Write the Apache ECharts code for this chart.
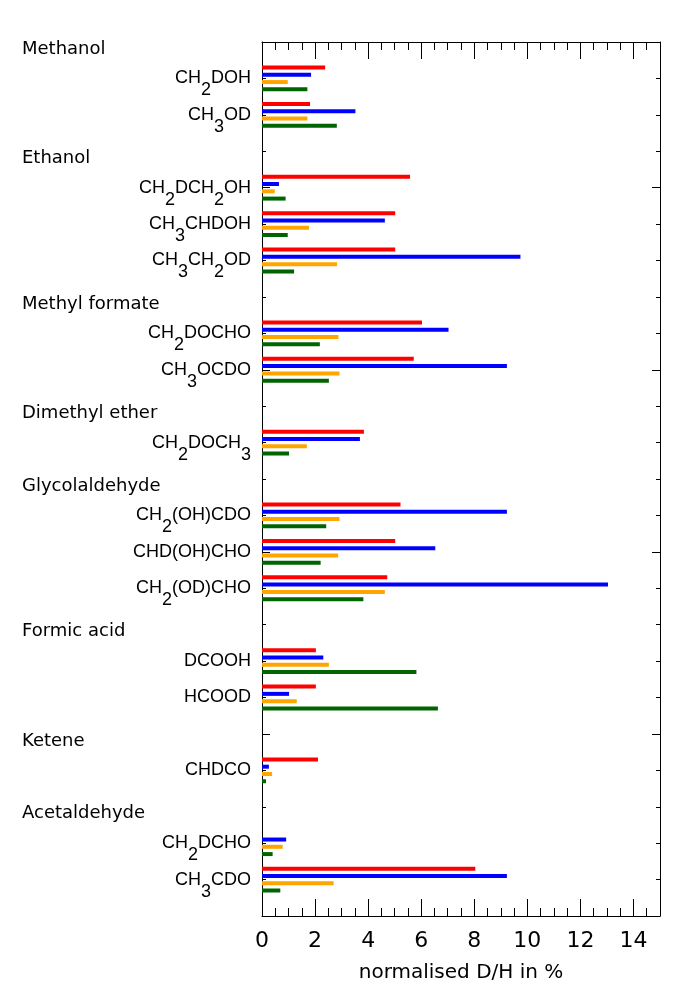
<!DOCTYPE html>
<html>
<head>
<meta charset="utf-8">
<script src="https://cdn.jsdelivr.net/npm/echarts@6/dist/echarts.min.js"></script>
<style>
  html, body { margin: 0; padding: 0; background: #fff; }
  #chart { width: 700px; height: 1000px; }
</style>
</head>
<body>
<div id="chart"></div>
<script>
// molecule groups, top to bottom, and the deuterated forms under each
const groups = ['Methanol', 'Ethanol', 'Methyl formate', 'Dimethyl ether',
  'Glycolaldehyde', 'Formic acid', 'Ketene', 'Acetaldehyde'];
const members = [
  ['CH2DOH', 'CH3OD'],
  ['CH2DCH2OH', 'CH3CHDOH', 'CH3CH2OD'],
  ['CH2DOCHO', 'CH3OCDO'],
  ['CH2DOCH3'],
  ['CH2(OH)CDO', 'CHD(OH)CHO', 'CH2(OD)CHO'],
  ['DCOOH', 'HCOOD'],
  ['CHDCO'],
  ['CH2DCHO', 'CH3CDO']
];

// normalised D/H in %, one value per compound in the order above
const redVals    = [2.38, 1.81, 5.58, 5.02, 5.02, 6.03, 5.72, 3.84, 5.22, 5.02, 4.72, 2.03, 2.03, 2.11, null, 8.04];
const blueVals   = [1.85, 3.52, 0.64, 4.63, 9.74, 7.03, 9.23, 3.69, 9.23, 6.53, 13.04, 2.31, 1.02, 0.26, 0.91, 9.23];
const orangeVals = [0.97, 1.71, 0.48, 1.77, 2.83, 2.88, 2.92, 1.69, 2.92, 2.87, 4.63, 2.52, 1.31, 0.38, 0.78, 2.70];
const greenVals  = [1.71, 2.82, 0.89, 0.97, 1.21, 2.18, 2.52, 1.02, 2.42, 2.21, 3.82, 5.82, 6.63, 0.15, 0.40, 0.69];

const xMax = 15;
const xStep = 2;

// each header and each compound takes one row; row 0 is the bottom edge
const nRows = 25;
const rowIds = [];
const compoundAt = new Array(nRows).fill('');
const headerAt = new Array(nRows).fill('');
const compoundRows = [];
for (let i = 0; i < nRows; i++) rowIds.push(String(i));
let row = nRows - 1;
groups.forEach(function (g, gi) {
  headerAt[row--] = g;
  members[gi].forEach(function (m) {
    compoundAt[row] = m;
    compoundRows.push(row);
    row--;
  });
});

function toRows(vals) {
  const out = new Array(nRows).fill(null);
  vals.forEach(function (v, i) { out[compoundRows[i]] = v; });
  return out;
}

// digits in the formulas are drawn as subscripts
function chem(name) {
  if (!name) return '';
  return name.split(/(\d+)/).filter(Boolean).map(function (p) {
    return /^\d+$/.test(p) ? '{s|' + p + '}' : '{n|' + p + '}';
  }).join('');
}

const black = '#000';

const chart = echarts.init(document.getElementById('chart'));

const option = {
  animation: false,
  backgroundColor: '#fff',
  grid: { left: 262, right: 40, top: 42, bottom: 84, containLabel: false },
  xAxis: [
    {
      type: 'value', position: 'bottom', min: 0, max: xMax, interval: xStep,
      axisLine: { show: true, onZero: false, lineStyle: { color: black, width: 1 } },
      axisTick: { show: true, inside: true, length: 17, lineStyle: { color: black } },
      minorTick: { show: true, splitNumber: 4, length: 8, lineStyle: { color: black } },
      splitLine: { show: false },
      axisLabel: { color: black, fontFamily: 'DejaVu Sans', fontSize: 22, margin: 14 },
      name: 'normalised D/H in %',
      nameLocation: 'middle',
      nameGap: 47,
      nameTextStyle: { color: black, fontFamily: 'DejaVu Sans', fontSize: 20 }
    },
    {
      type: 'value', position: 'top', min: 0, max: xMax, interval: xStep,
      axisLine: { show: true, onZero: false, lineStyle: { color: black, width: 1 } },
      axisTick: { show: true, inside: true, length: 17, lineStyle: { color: black } },
      minorTick: { show: true, splitNumber: 4, length: 8, lineStyle: { color: black } },
      splitLine: { show: false },
      axisLabel: { show: false }
    }
  ],
  yAxis: [
    {
      // compound labels + small ticks, used by the bars
      type: 'category', position: 'left', data: rowIds, boundaryGap: false,
      axisLine: { show: true, onZero: false, lineStyle: { color: black, width: 1 } },
      axisTick: { show: true, inside: true, length: 4, interval: 0, lineStyle: { color: black } },
      splitLine: { show: false },
      axisLabel: {
        interval: 0, margin: 11, color: black,
        formatter: function (v, i) { return chem(compoundAt[i]); },
        rich: {
          n: { fontFamily: 'Liberation Sans', fontSize: 18, lineHeight: 42, color: black },
          s: { fontFamily: 'Liberation Sans', fontSize: 18, lineHeight: 18, verticalAlign: 'bottom', color: black }
        }
      }
    },
    {
      // group headers, left aligned
      type: 'category', position: 'left', data: rowIds, boundaryGap: false,
      axisLine: { show: false, onZero: false },
      axisTick: { show: false },
      splitLine: { show: false },
      axisLabel: {
        interval: 0, margin: 240, align: 'left', color: black,
        formatter: function (v, i) { return headerAt[i] ? '{h|' + headerAt[i] + '}' : ''; },
        rich: {
          h: { fontFamily: 'DejaVu Sans', fontSize: 18, lineHeight: 32, verticalAlign: 'bottom', color: black }
        }
      }
    },
    {
      type: 'value', position: 'left', min: 0, max: nRows - 1, interval: 5,
      axisLine: { show: false, onZero: false },
      axisTick: { show: true, inside: true, length: 8, lineStyle: { color: black } },
      splitLine: { show: false },
      axisLabel: { show: false }
    },
    {
      type: 'category', position: 'right', data: rowIds, boundaryGap: false,
      axisLine: { show: true, onZero: false, lineStyle: { color: black, width: 1 } },
      axisTick: { show: true, inside: true, length: 4, interval: 0, lineStyle: { color: black } },
      splitLine: { show: false },
      axisLabel: { show: false }
    },
    {
      type: 'value', position: 'right', min: 0, max: nRows - 1, interval: 5,
      axisLine: { show: false, onZero: false },
      axisTick: { show: true, inside: true, length: 8, lineStyle: { color: black } },
      splitLine: { show: false },
      axisLabel: { show: false }
    }
  ],
  series: [
    { name: 'red', type: 'bar', data: toRows(redVals), itemStyle: { color: '#ff0000' } },
    { name: 'blue', type: 'bar', data: toRows(blueVals), itemStyle: { color: '#0000ff' } },
    { name: 'orange', type: 'bar', data: toRows(orangeVals), itemStyle: { color: '#ffa500' } },
    { name: 'green', type: 'bar', data: toRows(greenVals), itemStyle: { color: '#006400' } }
  ].map(function (s) {
    s.xAxisIndex = 0;
    s.yAxisIndex = 0;
    s.barWidth = 4;
    s.barGap = '82%';
    s.silent = true;
    return s;
  })
};

chart.setOption(option);
</script>
</body>
</html>
